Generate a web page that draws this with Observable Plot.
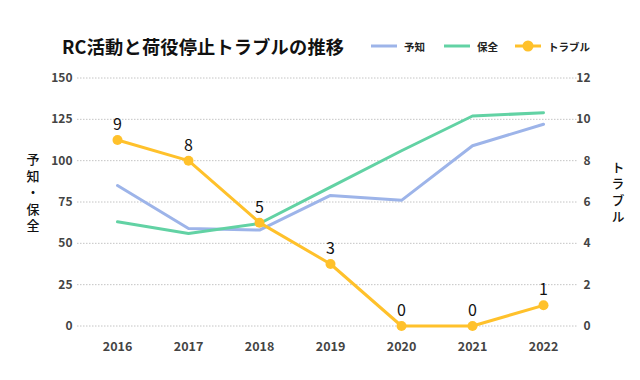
<!DOCTYPE html>
<html>
<head>
<meta charset="utf-8">
<script src="https://cdn.jsdelivr.net/npm/d3@7"></script>
<script src="https://cdn.jsdelivr.net/npm/@observablehq/plot@0.6"></script>
<style>
  body { margin: 0; background: #fff; font-family: "Noto Sans CJK JP", "Noto Sans", sans-serif; }
  #wrap { width: 640px; position: relative; }
  #header { position: relative; height: 60px; width: 640px; }
  #title { position: absolute; left: 62px; top: 34px; font-size: 18.2px; font-weight: bold; color: #111; line-height: 24px; white-space: nowrap; letter-spacing: 0.2px; }
  .lg { position: absolute; top: 38px; height: 16px; display: flex; align-items: center; font-size: 10.5px; font-weight: bold; color: #222; white-space: nowrap; }
  .lg svg { margin-right: 7px; }
</style>
</head>
<body>
<div id="wrap">
  <div id="header">
    <div id="title">RC活動と荷役停止トラブルの推移</div>
    <div id="legend"></div>
  </div>
  <div id="chart"></div>
</div>
<script>
const years = ["2016", "2017", "2018", "2019", "2020", "2021", "2022"];
const yochi = [85, 59, 58, 79, 76, 109, 122];
const hozen = [63, 56, 62, 84, 106, 127, 129];
const trouble = [9, 8, 5, 3, 0, 0, 1];
const leftTicks = [0, 25, 50, 75, 100, 125, 150];
const rightTicks = [0, 2, 4, 6, 8, 10, 12];
const leftLabel = "予知・保全";
const rightLabel = "トラブル";

const colors = { yochi: "#9db4e9", hozen: "#62d2a4", trouble: "#ffc12b" };
const ratio = 150 / 12;

const legendItems = [
  { label: "予知", color: colors.yochi, dot: false, left: 371 },
  { label: "保全", color: colors.hozen, dot: false, left: 444 },
  { label: "トラブル", color: colors.trouble, dot: true, left: 515 }
];
const legend = document.getElementById("legend");
for (const it of legendItems) {
  const d = document.createElement("div");
  d.className = "lg";
  d.style.left = it.left + "px";
  d.innerHTML = `<svg width="26" height="16"><line x1="0" x2="26" y1="8" y2="8" stroke="${it.color}" stroke-width="3"/>${it.dot ? `<circle cx="13" cy="8" r="5.5" fill="${it.color}"/>` : ""}</svg>${it.label}`;
  legend.appendChild(d);
}

const rowsY = years.map((y, i) => ({ year: y, value: yochi[i] }));
const rowsH = years.map((y, i) => ({ year: y, value: hozen[i] }));
const rowsT = years.map((y, i) => ({ year: y, value: trouble[i], scaled: trouble[i] * ratio }));

const chart = Plot.plot({
  width: 640,
  height: 320,
  marginLeft: 77,
  marginRight: 63,
  marginTop: 17.5,
  marginBottom: 54.5,
  insetLeft: 39,
  insetRight: 34,
  style: { fontFamily: "'Noto Sans CJK JP', 'Noto Sans', sans-serif", background: "#fff" },
  x: { type: "point", domain: years, padding: 0, label: null },
  y: { domain: [0, 150], label: null },
  marks: [
    Plot.gridY(leftTicks, { stroke: "#c4c4c4", strokeOpacity: 1, strokeDasharray: "1.5,1.5", strokeWidth: 1 }),
    Plot.axisY(leftTicks, { anchor: "left", tickSize: 0, tickPadding: 5, fontSize: 12, fontWeight: "bold", fill: "#444", label: null }),
    Plot.axisY(rightTicks.map(d => d * ratio), { anchor: "right", tickSize: 0, tickPadding: 13, textAnchor: "end", tickFormat: d => String(Math.round(d / ratio)), fontSize: 12, fontWeight: "bold", fill: "#444", label: null }),
    Plot.axisX({ tickSize: 0, tickPadding: 16, fontSize: 12.5, fontWeight: "bold", fill: "#444", label: null }),
    Plot.text([leftLabel], { frameAnchor: "left", dx: -44.5, dy: -12, fontSize: 13, fontWeight: 500, fill: "#111" }),
    Plot.text([rightLabel], { frameAnchor: "right", dx: 40.5, dy: -13, fontSize: 13, fontWeight: 500, fill: "#111" }),
    Plot.line(rowsY, { x: "year", y: "value", stroke: colors.yochi, strokeWidth: 3 }),
    Plot.line(rowsH, { x: "year", y: "value", stroke: colors.hozen, strokeWidth: 3 }),
    Plot.line(rowsT, { x: "year", y: "scaled", stroke: colors.trouble, strokeWidth: 3 }),
    Plot.dot(rowsT, { x: "year", y: "scaled", r: 5, fill: colors.trouble }),
    Plot.text(rowsT, { x: "year", y: "scaled", text: d => String(d.value), dy: -15, fontSize: 16, fill: "#111" })
  ]
});
d3.select(chart).selectAll("text")
  .filter(function () { return this.textContent === leftLabel || this.textContent === rightLabel; })
  .attr("writing-mode", "vertical-rl")
  .attr("text-anchor", "middle")
  .style("letter-spacing", "3.5px");
document.getElementById("chart").appendChild(chart);
</script>
</body>
</html>
